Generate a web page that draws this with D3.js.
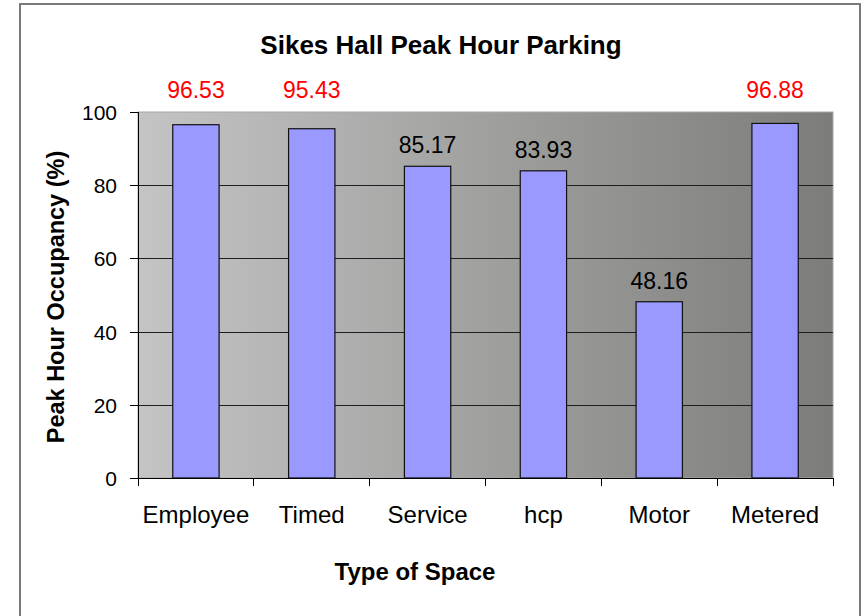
<!DOCTYPE html>
<html lang="en">
<head>
    <meta charset="UTF-8">
    <script src="https://d3js.org/d3.v7.min.js"></script>
</head>
<style>
    body {
        margin: 0;
        background-color: #ffffff;
    }
    svg text {
        font-family: 'Liberation Sans', Arial, sans-serif;
    }
    .axis path, .axis line {
        stroke: #000;
        shape-rendering: crispEdges;
    }
    .axis text {
        font-size: 21px;
        fill: #000;
    }
    .axis text.cat {
        font-size: 24px;
    }
</style>
<body>
<svg id="viz" width="862" height="616"></svg>
<script>
    // chart data
    var categories = ["Employee", "Timed", "Service", "hcp", "Motor", "Metered"];
    var occupancy = [96.53, 95.43, 85.17, 83.93, 48.16, 96.88];
    var yTicks = [0, 20, 40, 60, 80, 100];

    var svg = d3.select("#viz");
    var plot = {left: 138, top: 112, right: 833, bottom: 478};

    // outer chart border
    svg.append("rect")
        .attr("x", 20).attr("y", 4)
        .attr("width", 840).attr("height", 640)
        .attr("fill", "#fff")
        .attr("stroke", "#7a7a7a")
        .attr("stroke-width", 2);

    var defs = svg.append("defs");
    var grad = defs.append("linearGradient")
        .attr("id", "bg")
        .attr("x1", "0%").attr("x2", "100%")
        .attr("y1", "0%").attr("y2", "0%");
    grad.append("stop").attr("offset", "0%").attr("stop-color", "#c4c4c4");
    grad.append("stop").attr("offset", "100%").attr("stop-color", "#7c7d7a");

    var x = d3.scaleBand()
        .domain(categories)
        .range([plot.left, plot.right])
        .padding(0);
    var y = d3.scaleLinear()
        .domain([0, 100])
        .range([plot.bottom, plot.top]);

    svg.append("rect")
        .attr("x", plot.left).attr("y", plot.top)
        .attr("width", plot.right - plot.left)
        .attr("height", plot.bottom - plot.top)
        .attr("fill", "url(#bg)")
        .attr("stroke", "#a8a8a8")
        .attr("stroke-width", 1);

    // gridlines
    svg.append("g")
        .selectAll("line")
        .data(yTicks.filter(function(d) { return d > 0 && d < 100; }))
        .enter().append("line")
        .attr("x1", plot.left).attr("x2", plot.right)
        .attr("y1", function(d) { return Math.round(y(d)) + 0.5; })
        .attr("y2", function(d) { return Math.round(y(d)) + 0.5; })
        .attr("stroke", "#1e1e1e")
        .attr("stroke-width", 1);

    // bars
    var barW = x.bandwidth() * 0.4;
    svg.append("g")
        .selectAll("rect")
        .data(occupancy)
        .enter().append("rect")
        .attr("x", function(d, i) { return x(categories[i]) + (x.bandwidth() - barW) / 2; })
        .attr("y", function(d) { return y(d); })
        .attr("width", barW)
        .attr("height", function(d) { return y(0) - y(d); })
        .attr("fill", "#9999ff")
        .attr("stroke", "#111")
        .attr("stroke-width", 1.2);

    // value labels (the ones that would hit the top edge sit above the plot)
    svg.append("g")
        .selectAll("text")
        .data(occupancy)
        .enter().append("text")
        .attr("x", function(d, i) { return x(categories[i]) + x.bandwidth() / 2; })
        .attr("y", function(d) {
            var ly = y(d) - 13;
            return (ly - 17 < plot.top) ? plot.top - 14 : ly;
        })
        .attr("text-anchor", "middle")
        .attr("font-size", 23)
        .attr("fill", function(d) { return d > 90 ? "#ff0000" : "#000"; })
        .text(function(d) { return d.toFixed(2); });

    // y axis
    var yAxis = svg.append("g")
        .attr("class", "axis")
        .attr("transform", "translate(" + plot.left + ",0)")
        .call(d3.axisLeft(y).tickValues(yTicks).tickSize(8).tickPadding(13));
    yAxis.selectAll("text").attr("dy", "0.36em");

    // x axis, ticks on band edges
    var xAxis = svg.append("g")
        .attr("class", "axis")
        .attr("transform", "translate(0," + plot.bottom + ")");
    xAxis.append("line")
        .attr("x1", plot.left).attr("x2", plot.right)
        .attr("y1", 0).attr("y2", 0);
    xAxis.selectAll(".edge")
        .data(categories.concat([null]))
        .enter().append("line")
        .attr("class", "edge")
        .attr("x1", function(d, i) { return d ? x(d) : plot.right; })
        .attr("x2", function(d, i) { return d ? x(d) : plot.right; })
        .attr("y1", 0).attr("y2", 8);
    xAxis.selectAll(".cat")
        .data(categories)
        .enter().append("text")
        .attr("class", "cat")
        .attr("x", function(d) { return x(d) + x.bandwidth() / 2; })
        .attr("y", 45)
        .attr("text-anchor", "middle")
        .text(function(d) { return d; });

    // titles
    svg.append("text")
        .attr("x", 441).attr("y", 54)
        .attr("text-anchor", "middle")
        .attr("font-size", 26)
        .attr("font-weight", "bold")
        .text("Sikes Hall Peak Hour Parking");

    svg.append("text")
        .attr("x", 415).attr("y", 580)
        .attr("text-anchor", "middle")
        .attr("font-size", 24)
        .attr("font-weight", "bold")
        .text("Type of Space");

    svg.append("text")
        .attr("transform", "translate(64,297) rotate(-90)")
        .attr("text-anchor", "middle")
        .attr("font-size", 23.5)
        .attr("font-weight", "bold")
        .text("Peak Hour Occupancy (%)");
</script>
</body>
</html>
